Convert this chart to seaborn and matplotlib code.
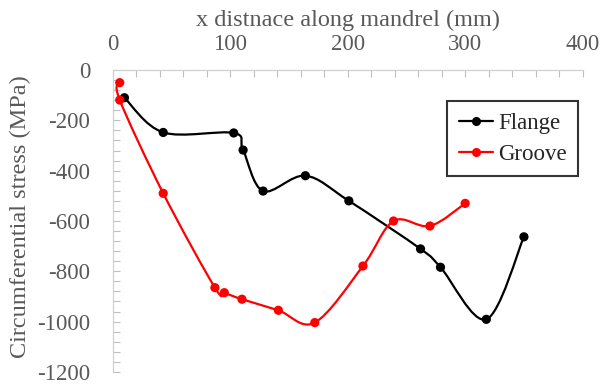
import numpy as np
import pandas as pd
import seaborn as sns
import matplotlib.pyplot as plt
from matplotlib.path import Path
from matplotlib.patches import PathPatch
from matplotlib.lines import Line2D
from matplotlib.ticker import MultipleLocator

sns.set_theme(style="white")
plt.rcParams['font.family'] = ['Liberation Serif', 'DejaVu Serif']
plt.rcParams['axes.unicode_minus'] = False

# values
flange_x = [10, 43, 103, 111, 128, 164, 201, 262, 279, 318, 350]
flange_y = [-110, -248, -250, -318, -481, -420, -520, -711, -784, -991, -663]
groove_x = [6, 6, 43, 87, 95, 110, 141, 172, 213, 239, 270, 300]
groove_y = [-50, -119, -490, -865, -885, -911, -955, -1004, -779, -600, -620, -530]

series = {'Flange': ('black', flange_x, flange_y),
          'Groove': ('red', groove_x, groove_y)}


def smooth_path(x, y):
    """Excel-style smoothed line through the points (cubic Bezier segments)."""
    p = np.column_stack([x, y]).astype(float)
    n = len(p)
    verts = [p[0]]
    codes = [Path.MOVETO]
    for i in range(n - 1):
        p0 = p[i - 1] if i > 0 else p[i]
        p3 = p[i + 2] if i + 2 < n else p[i + 1]
        c1 = p[i] + (p[i + 1] - p0) / 6
        c2 = p[i + 1] - (p3 - p[i]) / 6
        verts += [c1, c2, p[i + 1]]
        codes += [Path.CURVE4] * 3
    return Path(verts, codes)


df = pd.concat([pd.DataFrame({'x': xs, 'y': ys, 'series': name})
                for name, (_, xs, ys) in series.items()])

fig = plt.figure(figsize=(6.01, 3.85), dpi=100)
ax = fig.add_axes([0.1875, 0.034, 0.782, 0.784])

for name, (color, xs, ys) in series.items():
    ax.add_patch(PathPatch(smooth_path(xs, ys), facecolor='none',
                           edgecolor=color, lw=1.6, zorder=2))

sns.scatterplot(data=df, x='x', y='y', hue='series',
                palette={'Flange': 'black', 'Groove': 'red'},
                s=44, edgecolor='none', legend=False, zorder=3, ax=ax)

ax.set_xlim(0, 400)
ax.set_ylim(-1200, 0)
ax.xaxis.set_label_position('top')
ax.xaxis.tick_top()
ax.xaxis.set_major_locator(MultipleLocator(100))
ax.xaxis.set_minor_locator(MultipleLocator(20))
ax.yaxis.set_major_locator(MultipleLocator(200))
ax.yaxis.set_minor_locator(MultipleLocator(40))

grey = '#595959'
ax.tick_params(axis='x', which='both', direction='in', top=True, bottom=False,
               length=5, width=0.8, color='#bfbfbf', labelsize=16.5,
               labelcolor=grey, pad=11)
ax.tick_params(axis='y', which='both', direction='in', left=True,
               length=5, width=0.8, color='#bfbfbf', labelsize=16.5,
               labelcolor=grey, pad=16)

for side in ['right', 'bottom']:
    ax.spines[side].set_visible(False)
for side in ['left', 'top']:
    ax.spines[side].set_color('#d0d0d0')
    ax.spines[side].set_linewidth(0.9)

ax.set_xlabel('x distnace along mandrel (mm)', fontsize=17.5, color=grey)
ax.set_ylabel('Circumferential stress (MPa)', fontsize=17.5, color=grey)
ax.xaxis.set_label_coords(0.5, 1.147)
ax.yaxis.set_label_coords(-0.174, 0.513)

handles = [Line2D([], [], color=c, lw=1.6, marker='o', markersize=5.5)
           for c, _, _ in series.values()]
leg = ax.legend(handles, list(series.keys()), loc='upper right',
                bbox_to_anchor=(0.990, 0.897), fontsize=16.5, frameon=True,
                fancybox=False, edgecolor='black', handlelength=1.5,
                handletextpad=0.2, borderpad=0.5, labelspacing=0.45,
                borderaxespad=0)
leg.get_frame().set_linewidth(1.5)

plt.savefig('out.png', dpi=100)
